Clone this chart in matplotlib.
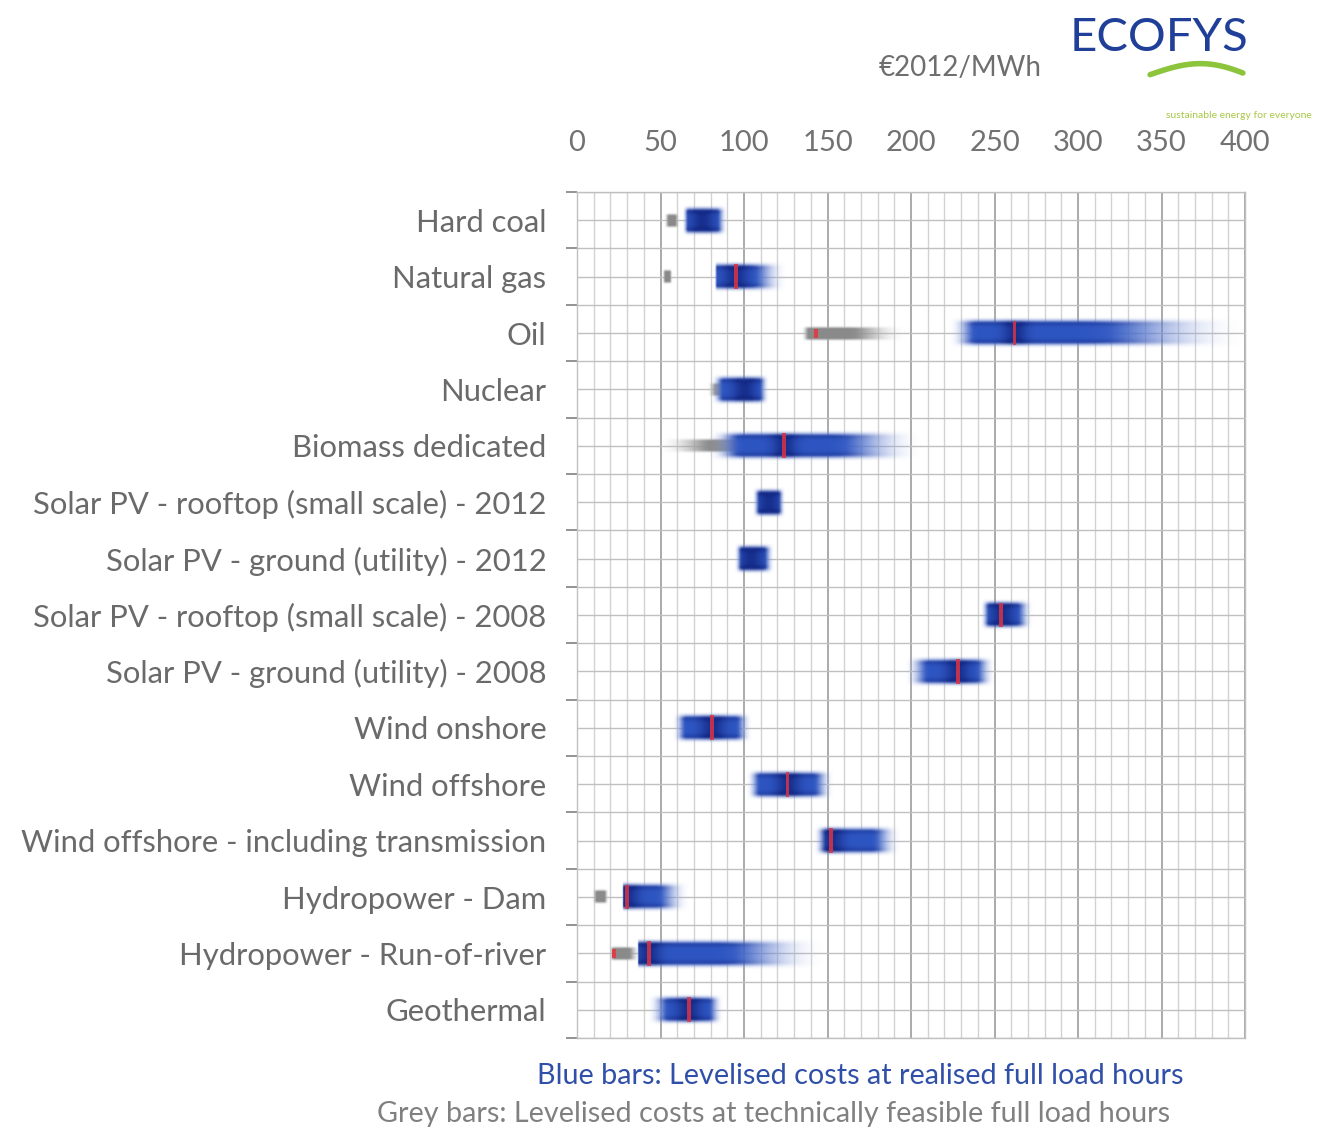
"""Levelised cost of electricity by technology (Ecofys style chart)."""
import numpy as np
import matplotlib
matplotlib.use("Agg")
import matplotlib.pyplot as plt
from matplotlib.colors import to_rgb

plt.rcParams["font.family"] = ["Lato", "DejaVu Sans"]

categories = [
    "Hard coal",
    "Natural gas",
    "Oil",
    "Nuclear",
    "Biomass dedicated",
    "Solar PV - rooftop (small scale) - 2012",
    "Solar PV - ground (utility) - 2012",
    "Solar PV - rooftop (small scale) - 2008",
    "Solar PV - ground (utility) - 2008",
    "Wind onshore",
    "Wind offshore",
    "Wind offshore - including transmission",
    "Hydropower - Dam",
    "Hydropower - Run-of-river",
    "Geothermal",
]

# blue bars (realised full load hours): faint start, solid start, solid end, faint end
blue_min = [63, 82, 222, 80, 78, 105, 94, 241, 196, 57, 101, 141, 27, 36, 42]
blue_low = [67, 84, 240, 88, 100, 110, 99, 247, 212, 66, 110, 150, 28, 37, 56]
blue_high = [83, 103, 300, 108, 150, 120, 111, 262, 238, 94, 140, 175, 46, 82, 78]
blue_max = [90, 126, 402, 115, 208, 125, 118, 273, 251, 105, 154, 194, 68, 150, 88]
blue_mark = [None, 95, 262, None, 124, None, None, 254, 228, 81, 126, 152, 30, 43, 67]
blue_core = [75, 95, 262, 100, 124, 115, 104, 254, 228, 81, 126, 152, 30, 43, 67]

# grey bars (technically feasible full load hours)
grey_min = [52, 51, 134, 78, 48, None, None, None, None, None, None, None, 9, 19, None]
grey_low = [55, 53, 139, 84, 85, None, None, None, None, None, None, None, 12, 22, None]
grey_high = [58, 55, 160, 90, 95, None, None, None, None, None, None, None, 16, 30, None]
grey_max = [61, 57, 198, 94, 100, None, None, None, None, None, None, None, 19, 38, None]
grey_mark = [None, None, 143, None, 95, None, None, None, None, None, None, None, None, 22, None]

x_ticks = [0, 50, 100, 150, 200, 250, 300, 350, 400]

NAVY = np.array(to_rgb("#10237e"))
MID = np.array(to_rgb("#2e56c2"))
PALE = np.array(to_rgb("#a8b9e8"))
GREY_D = np.array(to_rgb("#8a8a8a"))
GREY_L = np.array(to_rgb("#c4c4c4"))


def profile(xs, lo_min, lo, hi, hi_max):
    p = np.ones_like(xs)
    if lo > lo_min:
        p = np.where(xs < lo, np.clip((xs - lo_min) / (lo - lo_min), 0, 1), p)
    if hi_max > hi:
        p = np.where(xs > hi, np.clip((hi_max - xs) / (hi_max - hi), 0, 1), p)
    return p * p * (3 - 2 * p)


def soft_bar(ax, y, lo_min, lo, hi, hi_max, height, dark, light, z, core=None, edge=0.0):
    xs = np.linspace(lo_min, hi_max, 500)
    ys = np.linspace(-0.5, 0.5, 80)
    v = np.clip((0.5 - np.abs(ys)) / 0.25, 0, 1)
    v = v * v * (3 - 2 * v)
    t = profile(xs, lo_min, lo, hi, hi_max)[None, :] * v[:, None]
    img = np.zeros((len(ys), len(xs), 4))
    for c in range(3):
        img[..., c] = light[c] + (dark[c] - light[c]) * t
    if core is not None:
        d = np.exp(-((xs - core) / 7.0) ** 2)[None, :] * 0.75
        band = edge * np.exp(-((np.abs(ys) - 0.3) / 0.1) ** 2)[:, None]
        d = np.clip(d + band, 0, 0.85)
        for c in range(3):
            img[..., c] = img[..., c] + (NAVY[c] - img[..., c]) * d * t
    img[..., 3] = np.clip(t * 1.1, 0, 1)
    ax.imshow(img, extent=(lo_min, hi_max, y + height / 2, y - height / 2),
              aspect="auto", interpolation="bilinear", zorder=z)


fig = plt.figure(figsize=(13.25, 11.31), dpi=100)
ax = fig.add_axes([0.4355, 0.0822, 0.5042, 0.748])

n = len(categories)
ypos = np.arange(n) + 0.5

for i, y in enumerate(ypos):
    if grey_min[i] is not None:
        soft_bar(ax, y, grey_min[i], grey_low[i], grey_high[i], grey_max[i],
                 0.3, GREY_D, GREY_L, 3)
    if grey_mark[i] is not None:
        ax.barh(y, 2.5, left=grey_mark[i] - 1.25, height=0.16, color="#d8404a", zorder=4)
    soft_bar(ax, y, blue_min[i], blue_low[i], blue_high[i], blue_max[i],
             0.58, MID, PALE, 5, core=blue_core[i], edge=0.35)
    if blue_mark[i] is not None:
        ax.barh(y, 2.2, left=blue_mark[i] - 1.1, height=0.44, color="#dc3344",
                alpha=0.85, zorder=6)

ax.set_xlim(0, 400)
ax.set_ylim(n, 0)

ax.set_xticks(x_ticks)
ax.set_xticks(np.arange(0, 401, 10), minor=True)
ax.set_yticks(ypos)
ax.set_yticks(np.arange(0, n + 1), minor=True)
ax.set_yticklabels(categories)
ax.xaxis.tick_top()
ax.tick_params(axis="x", which="both", length=0, pad=26, labelsize=21, labelcolor="#727272")
ax.tick_params(axis="y", which="major", length=0, pad=22, labelsize=22.3, labelcolor="#6a6a6a")
ax.tick_params(axis="y", which="minor", length=8, width=1.2, color="#808080")

ax.grid(axis="x", which="major", color="#a4a4a4", lw=1.3, zorder=0)
ax.grid(axis="x", which="minor", color="#d2d2d2", lw=1.0, zorder=0)
ax.grid(axis="y", which="both", color="#c0c0c0", lw=1.0, zorder=0)
ax.set_axisbelow(True)
for s in ax.spines.values():
    s.set_color("#c0c0c0")
    s.set_linewidth(1.0)

# header
fig.text(0.663, 0.94, "€2012/MWh", fontsize=20, color="#6e6e6e", ha="left", va="center")
fig.text(0.807, 0.966, "ECOFYS", fontsize=34, color="#1f3f98", ha="left", va="center")
t = np.linspace(0, 1, 50)
fig.add_artist(plt.Line2D(0.868 + 0.07 * t, 0.934 + 0.012 * np.sin(np.pi * t * 0.85) - 0.004 * t,
                          transform=fig.transFigure, color="#8cc43c", lw=4,
                          solid_capstyle="round"))
fig.text(0.99, 0.898, "sustainable energy for everyone", fontsize=7.5, color="#a8c848",
         ha="right", va="center")

# legend notes
fig.text(0.649, 0.049, "Blue bars: Levelised costs at realised full load hours",
         fontsize=20.7, color="#2f4fa8", ha="center", va="center")
fig.text(0.584, 0.015, "Grey bars: Levelised costs at technically feasible full load hours",
         fontsize=20.7, color="#808080", ha="center", va="center")

fig.savefig("out.png", dpi=100)
